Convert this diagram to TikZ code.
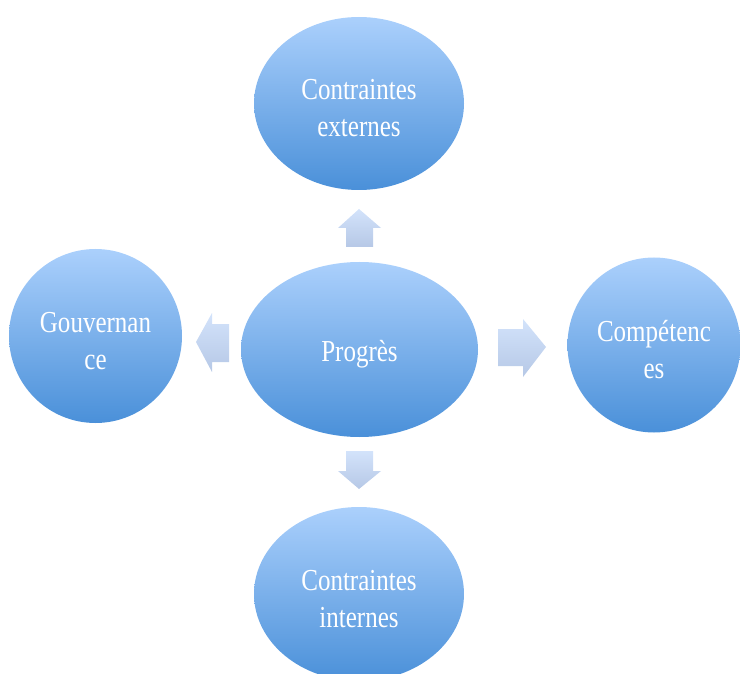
\documentclass[tikz,border=0pt]{standalone}
\usepackage{fontspec}
\setmainfont[FakeStretch=0.82]{Liberation Serif}
\usetikzlibrary{shapes.geometric}
\definecolor{blue1}{HTML}{ABD0FC}
\definecolor{blue2}{HTML}{4A90D9}
\definecolor{arr1}{HTML}{D3E3FB}
\definecolor{arr2}{HTML}{B6C8E6}
\tikzset{
  bubble/.style={ellipse, inner sep=0pt, top color=blue1, bottom color=blue2, draw=none},
  bubbletext/.style={text=white, align=center, inner sep=0pt, yshift=-5pt,
    font=\fontsize{30.5}{37}\selectfont},
  blockarrow/.style={top color=arr1, bottom color=arr2, draw=none}
}
\begin{document}
\begin{tikzpicture}[x=1pt,y=-1pt]
\useasboundingbox (0,0) rectangle (740,674);
\node[bubble, minimum width=237pt, minimum height=175pt,
  label={[bubbletext]center:Progrès}] (prog) at (359.5,349.5) {};
\node[bubble, minimum width=210pt, minimum height=173pt,
  label={[bubbletext]center:{Contraintes\\externes}}] (ext) at (359,103.5) {};
\node[bubble, minimum width=210pt, minimum height=174pt,
  label={[bubbletext]center:{Contraintes\\internes}}] (int) at (359,594) {};
\node[bubble, minimum width=173pt, minimum height=174pt,
  label={[bubbletext]center:{Gouvernan\\ce}}] (gouv) at (95.5,336) {};
\node[bubble, minimum width=173pt, minimum height=175pt,
  label={[bubbletext]center:{Compétenc\\es}}] (comp) at (654,345) {};
% block arrows
\shade[blockarrow] (359,209) -- (381,228) -- (373,228) -- (373,247) -- (346,247) -- (346,228) -- (338,228) -- cycle;
\shade[blockarrow] (346,451) -- (373,451) -- (373,471) -- (381,471) -- (359,489) -- (338,471) -- (346,471) -- cycle;
\shade[blockarrow] (196,342) -- (212,313) -- (212,324) -- (229,324) -- (229,362) -- (212,362) -- (212,372) -- cycle;
\shade[blockarrow] (498,329) -- (523,329) -- (523,319) -- (546,347) -- (523,377) -- (523,366) -- (498,366) -- cycle;
\end{tikzpicture}
\end{document}
